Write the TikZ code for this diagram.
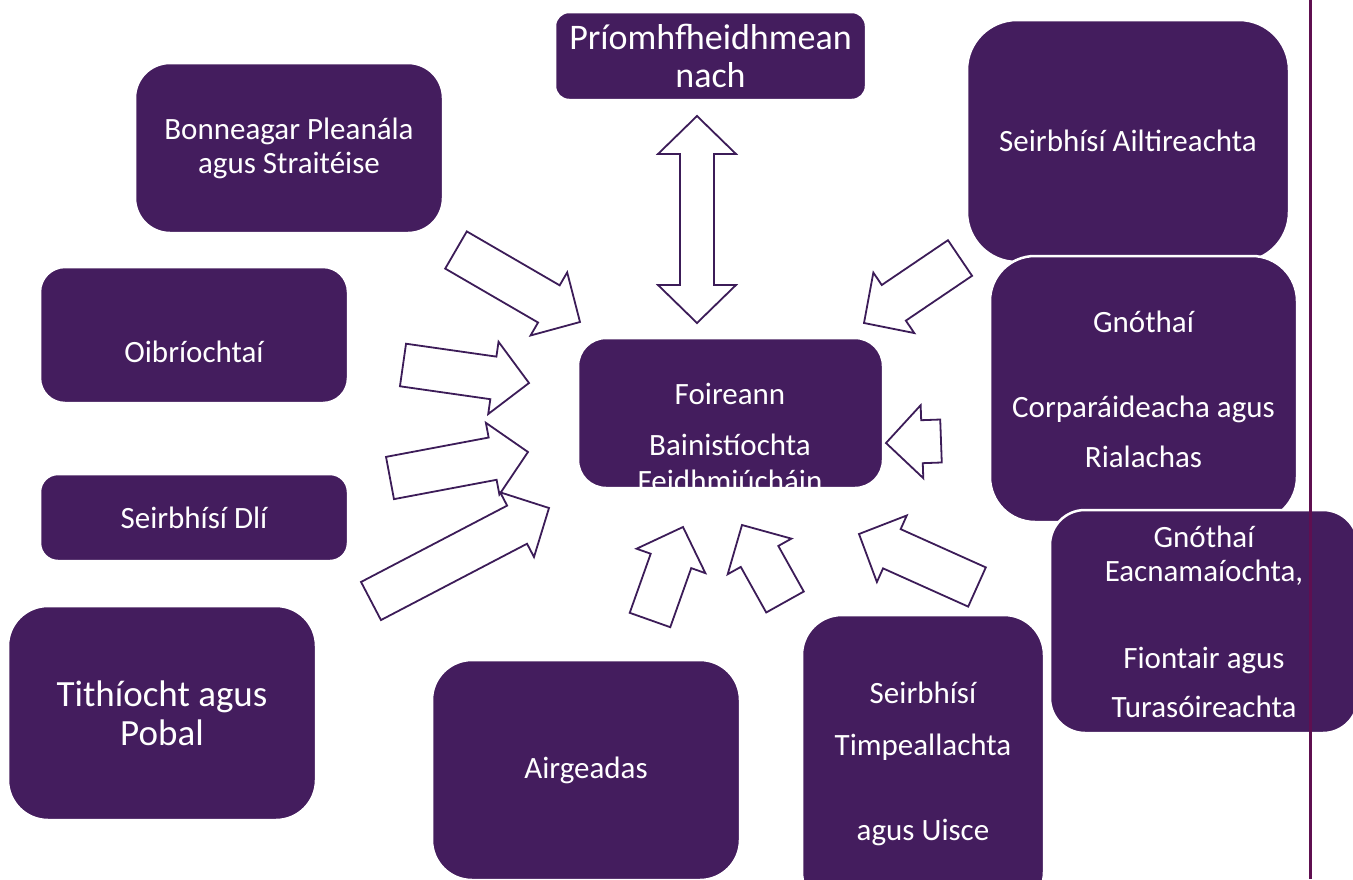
\documentclass[tikz,border=0pt]{standalone}
\usepackage{fontspec}
\setmainfont{Carlito}
\usepackage{tikz}
\usetikzlibrary{calc,positioning}
\definecolor{boxpurple}{RGB}{68,29,94}
\definecolor{linepurple}{RGB}{60,28,88}
\definecolor{rulemagenta}{RGB}{95,15,80}
\tikzset{unitbox/.style={rectangle, rounded corners=#1, fill=boxpurple, draw=white,
    line width=2.5pt, text=white, align=center, inner sep=0pt,
    font=\fontsize{31}{34}\selectfont}}
\tikzset{unittext/.style={text=white, align=center, inner sep=0pt,
    font=\fontsize{31}{34}\selectfont}}
\tikzset{hollowarrow/.style={draw=linepurple, fill=white, line width=1.8pt, line join=miter}}
\tikzset{sidebar/.style={draw=rulemagenta, line width=3pt}}
% block arrow: name, tail, tip
\newcommand\blockarrow[3]{%
  \coordinate (#1-hb) at ($(#3)!36pt!(#2)$);
  \draw[hollowarrow] ($(#2)!21.5pt!90:(#3)$) -- ($(#1-hb)!21.5pt!90:(#3)$)
    -- ($(#1-hb)!36.5pt!90:(#3)$) -- (#3) -- ($(#1-hb)!36.5pt!-90:(#3)$)
    -- ($(#1-hb)!21.5pt!-90:(#3)$) -- ($(#2)!21.5pt!-90:(#3)$) -- cycle;}
% arrow with two heads: name, one tip, other tip
\newcommand\twowayarrow[3]{%
  \coordinate (#1-ha) at ($(#2)!38pt!(#3)$);
  \coordinate (#1-hb) at ($(#3)!38pt!(#2)$);
  \draw[hollowarrow] (#2) -- ($(#1-ha)!39pt!90:(#3)$) -- ($(#1-ha)!17pt!90:(#3)$)
    -- ($(#1-hb)!17pt!90:(#3)$) -- ($(#1-hb)!39pt!90:(#3)$) -- (#3)
    -- ($(#1-hb)!39pt!-90:(#3)$) -- ($(#1-hb)!17pt!-90:(#3)$)
    -- ($(#1-ha)!17pt!-90:(#3)$) -- ($(#1-ha)!39pt!-90:(#3)$) -- cycle;}

\begin{document}
\begin{tikzpicture}[x=1pt,y=-1pt]
\useasboundingbox (0,0) rectangle (1353,879);
% units
\node[unitbox=14pt, minimum width=311pt, minimum height=88pt,
  font=\fontsize{36}{38}\selectfont] (prio) at (710.5,56) {Príomhfheidhmean\\nach};
\node[unitbox=35pt, minimum width=308pt, minimum height=170pt] (bonn) at (289,148)
  {Bonneagar Pleanála\\agus Straitéise};
\node[unitbox=50pt, minimum width=322pt, minimum height=242pt] (ailt) at (1128,141)
  {Seirbhísí Ailtireachta};
\node[unitbox=45pt, minimum width=307pt, minimum height=266pt] (corp) at (1143.5,389)
  {Gnóthaí\\[51pt]Corparáideacha agus\\[16pt]Rialachas};
\node[unitbox=35pt, minimum width=308pt, minimum height=223pt] (eacn) at (1204,621.5)
  {Gnóthaí\\Eacnamaíochta,\\[53pt]Fiontair agus\\[15pt]Turasóireachta};
\node[unitbox=25pt, minimum width=308pt, minimum height=136pt] (oibr) at (194,335) {};
\node[unittext] (oibr text) at (194,352) {Oibríochtaí};
\node[unitbox=18pt, minimum width=308pt, minimum height=87pt] (dli) at (194,517.5)
  {Seirbhísí Dlí};
\node[unitbox=40pt, minimum width=308pt, minimum height=214pt,
  font=\fontsize{37}{39}\selectfont] (tith) at (162,713) {Tithíocht agus\\Pobal};
\node[unitbox=40pt, minimum width=308pt, minimum height=220pt] (airg) at (586,770)
  {Airgeadas};
\node[unitbox=40pt, minimum width=242pt, minimum height=297pt] (timp) at (923,763.5)
  {Seirbhísí\\[18pt]Timpeallachta\\[51pt]agus Uisce};
\node[unitbox=28pt, minimum width=305pt, minimum height=150pt] (foir) at (730.5,413) {};
\node[unittext] (foir text) at (730,437)
  {Foireann\\[17pt]Bainistíochta\\[2pt]Feidhmiúcháin};

\draw[sidebar] (1310,0) -- (1310,879);

% arrow ends
\coordinate (prio tip) at (697,116);   \coordinate (foir tip) at (697,323);
\coordinate (bonn tail) at (456,250);  \coordinate (bonn tip) at (580,322);
\coordinate (oibr tail) at (403,365);  \coordinate (oibr tip) at (529,383);
\coordinate (dli tail) at (390,478);   \coordinate (dli tip) at (528,452);
\coordinate (tith tail) at (371,601);  \coordinate (tith tip) at (549,508);
\coordinate (airg tail) at (650,620);  \coordinate (airg tip) at (683,527);
\coordinate (timp tail) at (785,602);  \coordinate (timp tip) at (742,525);
\coordinate (eacn tail) at (977,587);  \coordinate (eacn tip) at (859,534);
\coordinate (corp tail) at (941,441);  \coordinate (corp tip) at (886,443);
\coordinate (ailt tail) at (960,258);  \coordinate (ailt tip) at (864,323);

\twowayarrow{prio}{prio tip}{foir tip}
\blockarrow{bonn}{bonn tail}{bonn tip}
\blockarrow{oibr}{oibr tail}{oibr tip}
\blockarrow{dli}{dli tail}{dli tip}
\blockarrow{tith}{tith tail}{tith tip}
\blockarrow{airg}{airg tail}{airg tip}
\blockarrow{timp}{timp tail}{timp tip}
\blockarrow{eacn}{eacn tail}{eacn tip}
\blockarrow{corp}{corp tail}{corp tip}
\blockarrow{ailt}{ailt tail}{ailt tip}
\end{tikzpicture}
\end{document}
